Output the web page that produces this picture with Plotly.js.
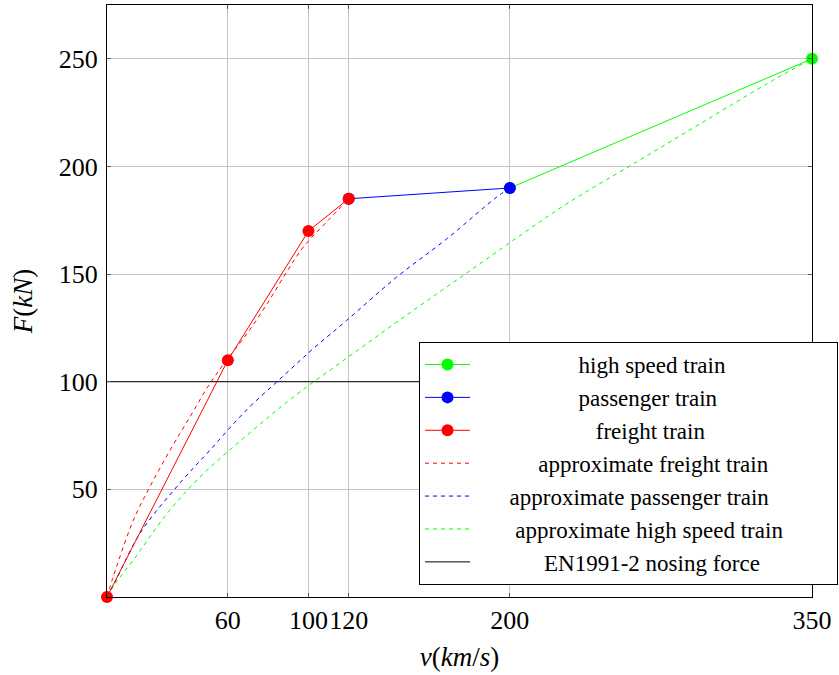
<!DOCTYPE html>
<html>
<head>
<meta charset="utf-8">
<script src="https://cdn.plot.ly/plotly-3.0.1.min.js"></script>
<style>
html,body{margin:0;padding:0;background:#fff;}
#chart{width:839px;height:675px;}
</style>
</head>
<body>
<div id="chart"></div>
<script>
// Measured train data
const highSpeedV = [200, 350];
const highSpeedF = [190, 250];
const passengerV = [120, 200];
const passengerF = [185, 190];
const freightV = [0, 60, 100, 120];
const freightF = [0, 110, 170, 185];

// Approximate curves
const approxFreightV = [0, 3.1, 13.1, 21.3, 31.3, 41.2, 51.1, 59.4, 70, 80, 89.2, 97.5, 109, 120];
const approxFreightF = [0, 9.4, 35.7, 51.2, 68.2, 83.7, 99.2, 110, 123, 137, 151, 162.6, 174.2, 185];

const approxPassengerV = [0, 4, 16.4, 34.6, 51.1, 69.4, 85, 95.8, 102.4, 119, 143.8, 168.7, 193.5, 200];
const approxPassengerF = [0, 7, 29.6, 51.2, 68.2, 87, 100.5, 109.8, 115.4, 128.5, 148.6, 166.4, 185.8, 190];

const approxHighSpeedV = [0, 4, 13.1, 29.6, 46.2, 62.7, 79.3, 92.5, 125.6, 152.1, 176.9, 201.7, 228.3, 261.3, 294.4, 327.6, 350];
const approxHighSpeedF = [0, 6, 17.2, 38.5, 55.8, 69.7, 82.9, 92.9, 115.4, 133.2, 149.4, 165.7, 182.7, 201.2, 219.8, 238.4, 250];

const nosingV = [0, 350];
const nosingF = [100, 100];

const xTicks = [60, 100, 120, 200, 350];
const yTicks = [50, 100, 150, 200, 250];

const names = [
  'high speed train',
  'passenger train',
  'freight train',
  'approximate freight train',
  'approximate passenger train',
  'approximate high speed train',
  'EN1991-2 nosing force'
];
// nbsp padding per side, used to centre legend labels
const padCounts = [18, 18, 21, 11, 6, 7, 12];

const GREEN = '#00ff00', BLUE = '#0000ff', RED = '#ff0000';
const DASH = '4px,4px';

function padName(s, n) { const p = '\u00a0'.repeat(n); return p + s + p; }

const traces = [
  {x: highSpeedV, y: highSpeedF, mode: 'lines+markers',
   line: {color: GREEN, width: 1}, marker: {color: GREEN, size: 12}},
  {x: passengerV, y: passengerF, mode: 'lines+markers',
   line: {color: BLUE, width: 1}, marker: {color: BLUE, size: 12}},
  {x: freightV, y: freightF, mode: 'lines+markers',
   line: {color: RED, width: 1}, marker: {color: RED, size: 12}},
  {x: approxFreightV, y: approxFreightF, mode: 'lines',
   line: {color: RED, width: 1, dash: DASH, shape: 'spline'}},
  {x: approxPassengerV, y: approxPassengerF, mode: 'lines',
   line: {color: BLUE, width: 1, dash: DASH, shape: 'spline'}},
  {x: approxHighSpeedV, y: approxHighSpeedF, mode: 'lines',
   line: {color: GREEN, width: 1, dash: DASH, shape: 'spline'}},
  {x: nosingV, y: nosingF, mode: 'lines',
   line: {color: '#000000', width: 1}}
];
traces.forEach((t, i) => {
  t.type = 'scatter'; t.cliponaxis = false;
  t.name = padName(names[i], padCounts[i]);
  t.legendrank = i + 1;
});

// Draw order: nosing + approximations below; high speed, passenger, freight on top
const drawOrder = [6, 3, 4, 5, 0, 1, 2];
const ordered = drawOrder.map(i => traces[i]);

const SERIF = 'Liberation Serif';

const layout = {
  width: 839, height: 675,
  margin: {l: 107, r: 27, t: 5, b: 78, autoexpand: false},
  paper_bgcolor: '#ffffff', plot_bgcolor: '#ffffff',
  font: {family: SERIF, size: 24, color: '#000000'},
  showlegend: true,
  legend: {
    x: 1.0369, xanchor: 'right', y: 0.4307, yanchor: 'top',
    bgcolor: '#ffffff', bordercolor: '#000000', borderwidth: 1,
    font: {family: SERIF, size: 23, color: '#000000'},
    itemwidth: 45, traceorder: 'normal'
  },
  xaxis: {
    range: [0, 350], tickvals: xTicks, ticktext: xTicks.map(String), tickangle: 0,
    showgrid: true, gridcolor: '#c4c4c4', gridwidth: 1,
    showline: true, linecolor: '#000000', linewidth: 1, mirror: 'ticks',
    ticks: 'inside', ticklen: 4, tickcolor: '#555555', zeroline: false,
    title: {text: '<i>v</i>(<i>km</i>/<i>s</i>)', font: {family: SERIF, size: 27, color: '#000000'}, standoff: 12},
    tickfont: {family: SERIF, size: 26, color: '#000000'}
  },
  yaxis: {
    range: [0, 275], tickvals: yTicks, ticktext: yTicks.map(String),
    showgrid: true, gridcolor: '#c4c4c4', gridwidth: 1,
    showline: true, linecolor: '#000000', linewidth: 1, mirror: 'ticks',
    ticks: 'inside', ticklen: 4, tickcolor: '#555555', zeroline: false,
    ticklabelstandoff: 3,
    title: {text: '<i>F</i>(<i>kN</i>)', font: {family: SERIF, size: 27, color: '#000000'}, standoff: 18},
    tickfont: {family: SERIF, size: 26, color: '#000000'}
  }
};

function draw() {
  Plotly.newPlot('chart', ordered, layout, {displayModeBar: false});
}
if (document.fonts && document.fonts.load) {
  Promise.all([
    document.fonts.load('24px "Liberation Serif"'),
    document.fonts.load('italic 24px "Liberation Serif"')
  ]).then(draw, draw);
} else {
  draw();
}
</script>
</body>
</html>
